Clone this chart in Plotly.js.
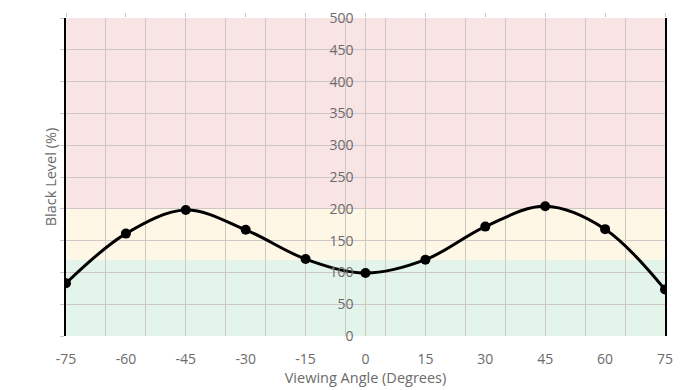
<!DOCTYPE html>
<html>
<head>
<meta charset="utf-8">
<script src="https://cdn.plot.ly/plotly-3.0.1.min.js"></script>
<style>html,body{margin:0;padding:0;background:#fff;}#chart{width:691px;height:390px;}</style>
</head>
<body>
<div id="chart"></div>
<script>
// Data
const angles = [-75, -60, -45, -30, -15, 0, 15, 30, 45, 60, 75];
const blackLevel = [83, 161, 198, 167, 121, 99, 120, 172, 204, 168, 73];
const xTickVals = [-75, -60, -45, -30, -15, 0, 15, 30, 45, 60, 75];
const xGridVals = [-75, -65, -55, -45, -35, -25, -15, -5, 0, 5, 15, 25, 35, 45, 55, 65, 75];
const yTickVals = [0, 50, 100, 150, 200, 250, 300, 350, 400, 450, 500];
const bandEdges = [0, 120, 200, 500];
const bandColors = ['#e3f4ea', '#fef7e6', '#f8e3e5'];

const fam = '"Open Sans", "Noto Sans", sans-serif';
const tickFont = {family: fam, size: 14, color: '#6b6b6b'};
const titleFont = {family: fam, size: 14.5, color: '#6b6b6b'};
const gridColor = '#cfc7c7';
const xRange = [-75, 75];
const yRange = [0, 500];

const traces = [
  {x: angles, y: blackLevel, type: 'scatter', mode: 'lines+markers',
   line: {shape: 'spline', smoothing: 1, color: '#000', width: 3},
   marker: {color: '#000', size: 10}, hoverinfo: 'skip', xaxis: 'x', yaxis: 'y'},
  {x: [], y: [], type: 'scatter', xaxis: 'x2', yaxis: 'y', hoverinfo: 'skip'},
  {x: [], y: [], type: 'scatter', xaxis: 'x3', yaxis: 'y', hoverinfo: 'skip'},
  {x: [], y: [], type: 'scatter', xaxis: 'x', yaxis: 'y2', hoverinfo: 'skip'}
];

const shapes = bandColors.map((c, i) => ({
  type: 'rect', xref: 'paper', yref: 'y', x0: 0, x1: 1,
  y0: bandEdges[i], y1: bandEdges[i + 1], fillcolor: c, line: {width: 0}, layer: 'below'
}));

const layout = {
  width: 691, height: 390,
  margin: {l: 66, r: 26, t: 18, b: 54},
  paper_bgcolor: '#fff', plot_bgcolor: '#fff',
  showlegend: false, font: tickFont,
  shapes: shapes,
  xaxis: {range: xRange, tickmode: 'array', tickvals: xTickVals, ticktext: xTickVals.map(String),
          showgrid: false, zeroline: false, showline: false, ticks: '', ticklabelstandoff: 13,
          tickfont: tickFont, automargin: false,
          title: {text: 'Viewing Angle (Degrees)', font: titleFont, standoff: 2}, fixedrange: true},
  xaxis2: {range: xRange, overlaying: 'x', side: 'top', tickmode: 'array', tickvals: xTickVals,
           showticklabels: false, ticks: 'outside', ticklen: 4, tickcolor: '#c8c8c8',
           showgrid: false, zeroline: false, showline: false},
  xaxis3: {range: xRange, overlaying: 'x', tickmode: 'array', tickvals: xGridVals,
           showticklabels: false, ticks: '', showgrid: true, gridcolor: gridColor, gridwidth: 1,
           zeroline: false, showline: false},
  yaxis: {range: yRange, tickmode: 'array', tickvals: yTickVals, showticklabels: false,
          ticks: 'outside', ticklen: 4, tickcolor: '#c8c8c8', automargin: false,
          showgrid: true, gridcolor: gridColor, gridwidth: 1, zeroline: false,
          showline: true, mirror: true, linecolor: '#000', linewidth: 2,
          title: {text: 'Black Level (%)', font: titleFont, standoff: 0}, fixedrange: true},
  yaxis2: {range: yRange, overlaying: 'y', anchor: 'free', position: 0.5, side: 'left',
           tickmode: 'array', tickvals: yTickVals, ticks: '', ticklabelstandoff: 12,
           showgrid: false, zeroline: false, showline: false, tickfont: tickFont}
};

Plotly.newPlot('chart', traces, layout, {displayModeBar: false, staticPlot: true});
</script>
</body>
</html>
